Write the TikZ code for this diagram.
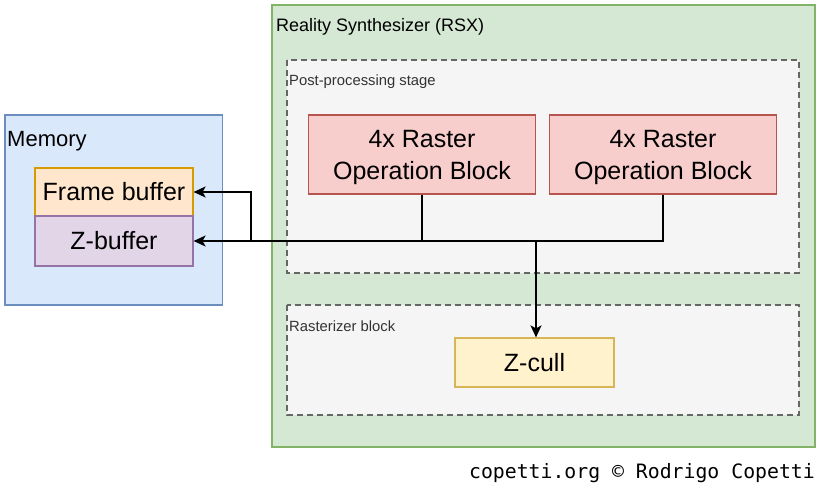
\documentclass[tikz,border=0pt]{standalone}
\usepackage{fontspec}
\setmainfont{Liberation Sans}
\newfontfamily\copyfont{DejaVu Sans Mono}
\usetikzlibrary{arrows.meta}
\definecolor{memfill}{HTML}{DAE8FC}\definecolor{memline}{HTML}{6C8EBF}
\definecolor{fbfill}{HTML}{FFE6CC}\definecolor{fbline}{HTML}{D79B00}
\definecolor{zbfill}{HTML}{E1D5E7}\definecolor{zbline}{HTML}{9673A6}
\definecolor{rsxfill}{HTML}{D5E8D4}\definecolor{rsxline}{HTML}{82B366}
\definecolor{grpfill}{HTML}{F5F5F5}\definecolor{grpline}{HTML}{666666}
\definecolor{ropfill}{HTML}{F8CECC}\definecolor{ropline}{HTML}{B85450}
\definecolor{zcfill}{HTML}{FFF2CC}\definecolor{zcline}{HTML}{D6B656}
\definecolor{grptext}{HTML}{333333}
\tikzset{
  box/.style={draw, line width=1.2pt, inner sep=0pt, align=center, font=\fontsize{25}{32}\selectfont},
  boxtext/.style={inner sep=0pt, align=center, font=\fontsize{25}{32}\selectfont},
  group/.style={draw=grpline, fill=grpfill, line width=1.2pt, dash pattern=on 6pt off 4pt},
  conn/.style={line width=1.6pt, draw=black, -{Stealth[length=12pt,width=11pt,inset=3pt]}},
  line/.style={line width=1.6pt, draw=black},
}
\begin{document}
\begin{tikzpicture}[x=1pt,y=-1pt]
\useasboundingbox (0,0) rectangle (820,489);
% Memory
\draw[fill=memfill, draw=memline, line width=1.2pt] (5,115) rectangle (222.5,305);
\node[anchor=base west, inner sep=0pt, font=\fontsize{22}{26}\selectfont] (memlbl) at (7,147) {Memory};
\node[box, fill=fbfill, draw=fbline, minimum width=158pt, minimum height=48pt] (fb) at (114,192) {Frame buffer};
\node[box, fill=zbfill, draw=zbline, minimum width=158pt, minimum height=50pt] (zb) at (114,241) {Z-buffer};
% RSX
\draw[fill=rsxfill, draw=rsxline, line width=1.2pt] (272,5) rectangle (815,447);
\node[anchor=base west, inner sep=0pt, font=\fontsize{18}{22}\selectfont] (rsxlbl) at (276,32) {Reality Synthesizer (RSX)};
% groups
\draw[group] (287,60) rectangle (799,273);
\node[anchor=base west, inner sep=0pt, text=grptext, font=\fontsize{14.8}{18}\selectfont] (pplbl) at (289,86) {Post-processing stage};
\draw[group] (287,305) rectangle (799,415);
\node[anchor=base west, inner sep=0pt, text=grptext, font=\fontsize{14.8}{18}\selectfont] (rblbl) at (289,331) {Rasterizer block};
% ROP blocks
\node[box, fill=ropfill, draw=ropline, minimum width=227pt, minimum height=79pt] (rop1) at (422,154.5) {};
\node[boxtext] (rop1t) at (422,157.5) {4x Raster\\Operation Block};
\node[box, fill=ropfill, draw=ropline, minimum width=227pt, minimum height=79pt] (rop2) at (663,154.5) {};
\node[boxtext] (rop2t) at (663,157.5) {4x Raster\\Operation Block};
% Z-cull
\node[box, fill=zcfill, draw=zcline, minimum width=159pt, minimum height=49pt] (zc) at (534.5,362.5) {Z-cull};
% connectors
\coordinate (j1) at (422,241);
\coordinate (j2) at (663,241);
\coordinate (jz) at (536,241);
\coordinate (jf) at (251,241);
\draw[line] (rop1.south) -- (j1);
\draw[line] (rop2.south) -- (j2) -- (j1);
\draw[conn] (j1) -- (zb.east |- j1);
\draw[conn] (j1) -- (jf) |- (fb.east);
\draw[conn] (jz) -- (jz |- zc.north);
% copyright
\node[anchor=base east, inner sep=0pt, font=\copyfont\fontsize{19.8}{24}\selectfont] (copy) at (815,478) {copetti.org © Rodrigo Copetti};
\end{tikzpicture}
\end{document}
